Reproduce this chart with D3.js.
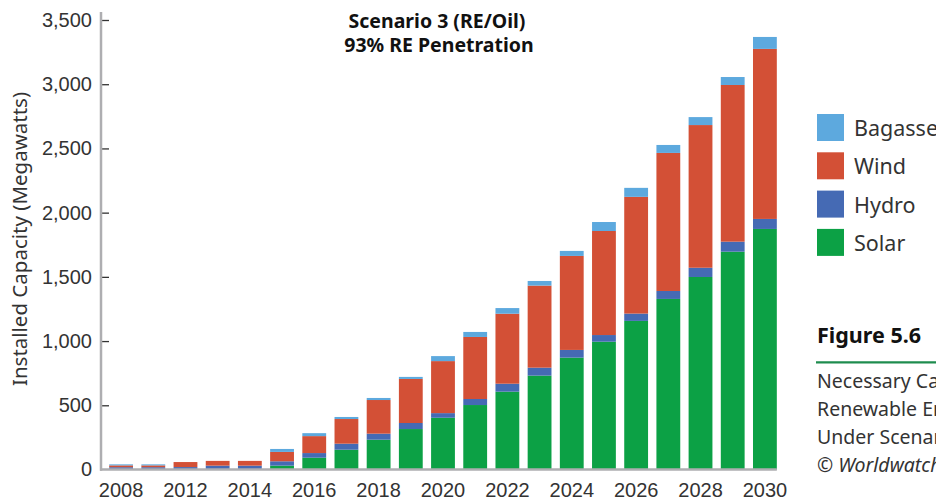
<!DOCTYPE html>
<html>
<head>
<meta charset="utf-8">
<script src="https://cdn.jsdelivr.net/npm/d3@7"></script>
<style>
  body { margin: 0; background: #fff; }
  svg { display: block; font-family: "Noto Sans", "Open Sans", sans-serif; }
</style>
</head>
<body>
<div id="chart"></div>
<script>
var width = 936,
    height = 501;

// data (MW)
var years = ["2008", "2010", "2012", "2013", "2014", "2015", "2016", "2017", "2018", "2019", "2020",
             "2021", "2022", "2023", "2024", "2025", "2026", "2027", "2028", "2029", "2030"];
var solar   = [0, 0, 0, 0, 0, 30, 92, 154, 232, 315, 403, 502, 606, 731, 871, 995, 1157, 1328, 1499, 1696, 1873];
var hydro   = [18, 18, 19, 30, 30, 34, 36, 47, 47, 47, 36, 47, 62, 62, 60, 52, 57, 62, 72, 78, 78];
var wind    = [14, 14, 39, 37, 37, 73, 132, 192, 262, 343, 405, 483, 545, 639, 732, 810, 909, 1075, 1111, 1220, 1324];
var bagasse = [8, 8, 0, 0, 0, 23, 23, 16, 16, 16, 39, 39, 44, 36, 39, 70, 70, 62, 62, 62, 93];

var xTicks = ["2008", "2012", "2014", "2016", "2018", "2020", "2022", "2024", "2026", "2028", "2030"];
var yTicks = [0, 500, 1000, 1500, 2000, 2500, 3000, 3500];

var keys = ["solar", "hydro", "wind", "bagasse"];
var legendKeys = ["bagasse", "wind", "hydro", "solar"];
var names = { solar: "Solar", hydro: "Hydro", wind: "Wind", bagasse: "Bagasse" };
var color = { solar: "#0ca145", hydro: "#456ab4", wind: "#d35036", bagasse: "#5da9de" };

var table = years.map(function(y, i) {
    return { year: y, solar: solar[i], hydro: hydro[i], wind: wind[i], bagasse: bagasse[i] };
});

var svg = d3.select("#chart").append("svg")
    .attr("width", width)
    .attr("height", height);

var x = d3.scaleBand()
    .domain(years)
    .range([105, 781])
    .paddingInner(0.26)
    .paddingOuter(0.13);

var y = d3.scaleLinear()
    .domain([0, 3500])
    .range([469.5, 20]);

var series = d3.stack().keys(keys)(table);

svg.append("g")
  .selectAll("g")
  .data(series)
  .join("g")
    .attr("fill", function(d) { return color[d.key]; })
  .selectAll("rect")
  .data(function(d) { return d; })
  .join("rect")
    .attr("x", function(d) { return x(d.data.year); })
    .attr("y", function(d) { return y(d[1]); })
    .attr("height", function(d) { return y(d[0]) - y(d[1]); })
    .attr("width", x.bandwidth());

// y axis
var yAxis = svg.append("g")
    .attr("transform", "translate(101,0)")
    .call(d3.axisLeft(y).tickValues(yTicks).tickFormat(d3.format(",")).tickSize(-8).tickPadding(9));
yAxis.select(".domain").remove();
yAxis.selectAll(".tick line").attr("stroke", "#333").attr("stroke-width", 1.3)
    .filter(function(d) { return d === 0; }).remove();
yAxis.selectAll("text").attr("fill", "#333").style("font-size", "20px");

svg.append("line")
    .attr("x1", 101).attr("x2", 101)
    .attr("y1", 12).attr("y2", 470.8)
    .attr("stroke", "#aeaeb1").attr("stroke-width", 2.5);

// x axis
var xAxis = svg.append("g")
    .attr("transform", "translate(0," + y(0) + ")")
    .call(d3.axisBottom(x).tickValues(xTicks).tickSize(0));
xAxis.select(".domain").remove();
xAxis.selectAll("text").attr("fill", "#333").style("font-size", "20px")
    .attr("y", 27.5).attr("dy", null);

svg.append("line")
    .attr("x1", 100).attr("x2", x(years[years.length - 1]) + x.bandwidth())
    .attr("y1", y(0)).attr("y2", y(0))
    .attr("stroke", "#aeaeb1").attr("stroke-width", 2.5);

svg.append("text")
    .attr("transform", "translate(27,239) rotate(-90)")
    .attr("text-anchor", "middle")
    .attr("fill", "#333")
    .style("font-size", "20.5px")
    .text("Installed Capacity (Megawatts)");

// title
var title = svg.append("text")
    .attr("text-anchor", "middle")
    .attr("fill", "#111")
    .style("font-size", "19.5px")
    .style("font-weight", "bold");
title.append("tspan").attr("x", 437).attr("y", 28).text("Scenario 3 (RE/Oil)");
title.append("tspan").attr("x", 439).attr("y", 52).text("93% RE Penetration");

// legend
var legend = svg.append("g")
  .selectAll("g")
  .data(legendKeys)
  .join("g")
    .attr("transform", function(d, i) { return "translate(817," + (114 + i * 38.3) + ")"; });
legend.append("rect")
    .attr("width", 27).attr("height", 27)
    .attr("fill", function(d) { return color[d]; });
legend.append("text")
    .attr("x", 37).attr("y", 22)
    .attr("fill", "#333")
    .style("font-size", "21.5px")
    .text(function(d) { return names[d]; });

// figure caption on the right
svg.append("text")
    .attr("x", 817).attr("y", 342.5)
    .attr("fill", "#111")
    .style("font-size", "21.5px")
    .style("font-weight", "bold")
    .text("Figure 5.6");

svg.append("line")
    .attr("x1", 816).attr("x2", 936)
    .attr("y1", 362.3).attr("y2", 362.3)
    .attr("stroke", "#1e8c4e").attr("stroke-width", 2.2);

var caption = ["Necessary Capacity of", "Renewable Energy", "Under Scenario 3"];
svg.append("g")
  .selectAll("text")
  .data(caption)
  .join("text")
    .attr("x", 817)
    .attr("y", function(d, i) { return 388.3 + i * 28; })
    .attr("fill", "#333")
    .style("font-size", "19.5px")
    .text(function(d) { return d; });

svg.append("text")
    .attr("x", 817).attr("y", 472.3)
    .attr("fill", "#333")
    .style("font-size", "19.5px")
    .style("font-style", "italic")
    .text("\u00a9 Worldwatch Institute");
</script>
</body>
</html>
